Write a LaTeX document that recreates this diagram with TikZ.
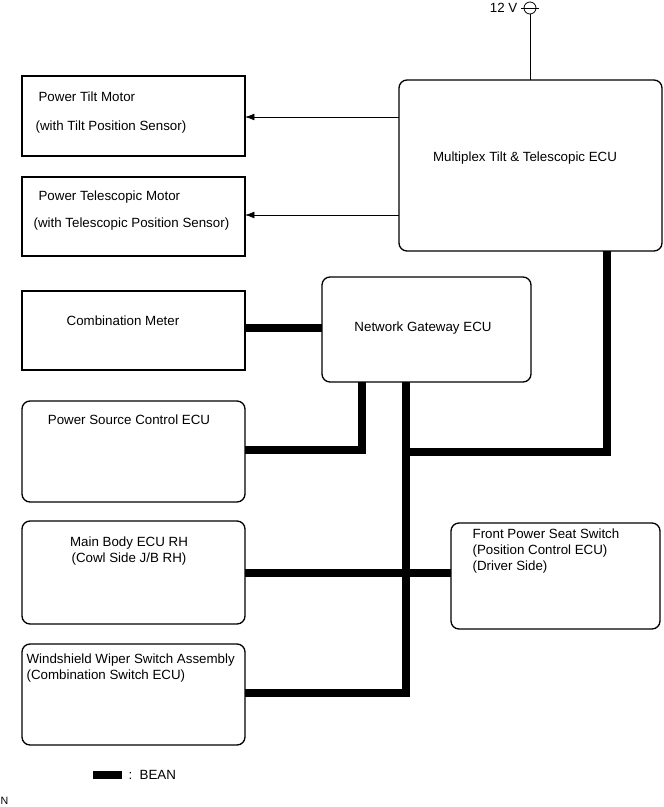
\documentclass[tikz,border=0pt]{standalone}
\usepackage{fontspec}
\setmainfont{Liberation Sans}
\usetikzlibrary{arrows.meta}
\tikzset{
every picture/.style={
line width=0.9pt
}}
\tikzset{
  box/.style={draw, line width=1pt},
  rbox/.style={draw, line width=1pt, rounded corners=6pt},
  txt/.style={font=\fontsize{10}{12}\selectfont, inner sep=0pt},
  bean/.style={line width=5.5pt},
  sig/.style={line width=0.5pt, -{Latex[length=7pt,width=5pt]}}
}

\begin{document}
\begin{tikzpicture}[x=0.75pt, y=-0.75pt]
\useasboundingbox (0,0) rectangle (664,807);
% units
\draw[box] (22,76) rectangle (245,156);
\node[txt, anchor=west] (tilt) at (38,97) {Power Tilt Motor};
\node[txt, anchor=west] at (35,127) {(with Tilt Position Sensor)};
\draw[box] (22,177) rectangle (245,256);
\node[txt, anchor=west] (tele) at (38,197) {Power Telescopic Motor};
\node[txt, anchor=west] at (33,224) {(with Telescopic Position Sensor)};
\draw[rbox] (399,80) rectangle (662,251);
\node[txt] (mpx) at (525,158) {Multiplex Tilt \& Telescopic ECU};
\draw[box] (22,291) rectangle (245,370);
\node[txt] (meter) at (123,321) {Combination Meter};
\draw[rbox] (322,277) rectangle (531,382);
\node[txt] (gw) at (423,328) {Network Gateway ECU};
\draw[rbox] (22,401) rectangle (245,502);
\node[txt] (psc) at (129,420) {Power Source Control ECU};
\draw[rbox] (22,521) rectangle (245,624);
\node[txt, align=center] (body) at (129,551) {Main Body ECU RH\\(Cowl Side J/B RH)};
\draw[rbox] (22,644) rectangle (245,745);
\node[txt, align=left, anchor=west] (wiper) at (26,668) {Windshield Wiper Switch Assembly\\(Combination Switch ECU)};
\draw[rbox] (451,523) rectangle (660,629);
\node[txt, align=left, anchor=west] (seat) at (472,551) {Front Power Seat Switch\\(Position Control ECU)\\(Driver Side)};
% power supply
\coordinate (vcc) at (530,8);
\draw[line width=0.6pt] (vcc) circle (6);
\draw[line width=0.6pt] (521,8) -- (539,8);
\draw[line width=0.6pt] (530,14) -- (530,80);
\node[txt, anchor=east] at (518,8) {12 V};
% signal lines
\draw[sig] (399,117) -- (245,117);
\draw[sig] (399,215) -- (245,215);
% BEAN
\draw[bean] (245,328) -- (322,328);
\draw[bean] (362,382) -- (362,450) -- (245,450);
\draw[bean] (406,382) -- (406,693) -- (245,693);
\draw[bean] (245,573) -- (451,573);
\draw[bean] (406,452) -- (607,452) -- (607,251);
% legend
\fill (93,771) rectangle (122,779);
\node[txt, anchor=west] at (128,775) {:\ \ BEAN};
\node[txt, anchor=west, font=\fontsize{8}{9}\selectfont] at (0,801) {N};
\end{tikzpicture}
\end{document}
